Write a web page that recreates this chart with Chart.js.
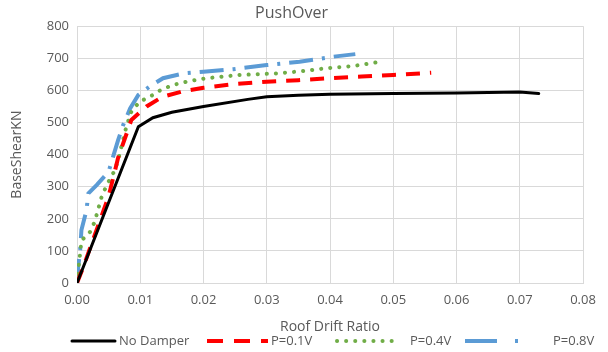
<!DOCTYPE html>
<html>
<head>
<meta charset="utf-8">
<script src="https://cdn.jsdelivr.net/npm/chart.js@4"></script>
<style>
    html, body { margin: 0; padding: 0; background: #fff; }
    #wrap { width: 608px; height: 352px; }
</style>
</head>
<body>
<div id="wrap"><canvas id="pushChart" width="608" height="352"></canvas></div>
<script>
// Data
const seriesLabels = ['No Damper', 'P=0.1V', 'P=0.4V', 'P=0.8V'];

const driftNoDamper = [0, 0.0097, 0.012, 0.015, 0.02, 0.027, 0.03, 0.035, 0.04, 0.05, 0.06, 0.07, 0.073];
const shearNoDamper = [0, 487, 515, 532, 550, 572, 580, 585, 588, 590, 592, 595, 590];

const drift01 = [0, 0.001, 0.003, 0.005, 0.0065, 0.0086, 0.011, 0.0135, 0.0165, 0.02, 0.025, 0.03, 0.035, 0.04, 0.045, 0.05, 0.056];
const shear01 = [0, 50, 160, 270, 390, 508, 550, 580, 596, 608, 620, 627, 632, 638, 643, 648, 655];

const drift04 = [0, 0.0007, 0.0021, 0.0028, 0.0039, 0.0047, 0.006, 0.0065, 0.0078, 0.0086, 0.0099, 0.0115, 0.0134, 0.0152, 0.0173, 0.0194, 0.0215, 0.0257, 0.0315, 0.0357, 0.0394, 0.0437, 0.0476];
const shear04 = [0, 132, 160, 191, 269, 305, 352, 383, 487, 534, 565, 580, 603, 617, 627, 635, 640, 648, 653, 660, 669, 676, 688];

const drift08 = [0, 0.0002, 0.0005, 0.0007, 0.0015, 0.0018, 0.0031, 0.005, 0.0057, 0.0065, 0.0073, 0.0084, 0.0097, 0.0115, 0.0136, 0.0168, 0.02, 0.0247, 0.03, 0.0352, 0.0405, 0.044];
const shear08 = [0, 51, 103, 165, 227, 279, 305, 347, 393, 445, 492, 544, 586, 612, 638, 653, 658, 666, 679, 689, 705, 713];

const xTicks = [0, 0.01, 0.02, 0.03, 0.04, 0.05, 0.06, 0.07, 0.08];
const yTicks = [0, 100, 200, 300, 400, 500, 600, 700, 800];

const textGray = '#595959';
const gridGray = '#d9d9d9';
const fontFamily = '"Open Sans", "Liberation Sans", sans-serif';

function toPoints(xs, ys) {
    return xs.map((x, i) => ({ x: x, y: ys[i] }));
}

// legend placement (layout only)
const legendLineStart = [72, 207, 337, 465];
const legendLineEnd = [115, 268, 398, 520];
const legendTextX = [119, 271, 410, 553];
const legendDash = [[], [16, 11], [0.1, 9], [32, 18, 3, 60]];

const legendPlugin = {
    id: 'excelLegend',
    afterDraw(chart) {
        const ctx = chart.ctx;
        const y = 341;
        ctx.save();
        chart.data.datasets.forEach((ds, i) => {
            ctx.beginPath();
            ctx.strokeStyle = ds.borderColor;
            ctx.lineWidth = ds.borderWidth;
            ctx.lineCap = ds.borderCapStyle || 'butt';
            ctx.setLineDash(legendDash[i]);
            ctx.moveTo(legendLineStart[i], y);
            ctx.lineTo(legendLineEnd[i], y);
            ctx.stroke();
            ctx.setLineDash([]);
            ctx.fillStyle = textGray;
            ctx.font = '13px ' + fontFamily;
            ctx.textBaseline = 'middle';
            ctx.textAlign = 'left';
            ctx.fillText(ds.label, legendTextX[i], y);
        });
        ctx.restore();
    }
};

new Chart(document.getElementById('pushChart'), {
    type: 'line',
    data: {
        datasets: [
            {
                label: seriesLabels[0],
                data: toPoints(driftNoDamper, shearNoDamper),
                borderColor: '#000000',
                borderWidth: 3,
                borderCapStyle: 'round'
            },
            {
                label: seriesLabels[1],
                data: toPoints(drift01, shear01),
                borderColor: '#ff0000',
                borderWidth: 4,
                borderDash: [14, 10]
            },
            {
                label: seriesLabels[2],
                data: toPoints(drift04, shear04),
                borderColor: '#70ad47',
                borderWidth: 4,
                borderDash: [0.1, 9],
                borderCapStyle: 'round'
            },
            {
                label: seriesLabels[3],
                data: toPoints(drift08, shear08),
                borderColor: '#5b9bd5',
                borderWidth: 4,
                borderDash: [24, 9, 3, 9]
            }
        ]
    },
    options: {
        responsive: false,
        animation: false,
        elements: {
            point: { radius: 0 },
            line: { tension: 0, fill: false }
        },
        layout: { padding: { left: 0, right: 25, top: 0, bottom: 17 } },
        plugins: {
            legend: { display: false },
            tooltip: { enabled: false },
            title: {
                display: true,
                text: 'PushOver',
                color: textGray,
                font: { family: fontFamily, size: 16, weight: 'normal' },
                padding: { top: 4, bottom: 3 }
            }
        },
        scales: {
            x: {
                type: 'linear',
                min: 0,
                max: 0.08,
                afterFit: (scale) => { scale.height = 52; },
                afterBuildTicks: (scale) => { scale.ticks = xTicks.map(v => ({ value: v })); },
                grid: { color: gridGray, drawTicks: false },
                border: { color: gridGray },
                ticks: {
                    color: textGray,
                    padding: 9,
                    font: { family: fontFamily, size: 13 },
                    callback: (v) => Number(v).toFixed(2)
                },
                title: {
                    display: true,
                    text: 'Roof Drift Ratio',
                    color: textGray,
                    font: { family: fontFamily, size: 14 },
                    padding: { top: 0, bottom: 0 }
                }
            },
            y: {
                min: 0,
                max: 800,
                afterFit: (scale) => { scale.width = 77; },
                afterBuildTicks: (scale) => { scale.ticks = yTicks.map(v => ({ value: v })); },
                grid: { color: gridGray, drawTicks: false },
                border: { color: gridGray },
                ticks: {
                    color: textGray,
                    padding: 8,
                    font: { family: fontFamily, size: 13 }
                },
                title: {
                    display: true,
                    text: 'BaseShearKN',
                    color: textGray,
                    font: { family: fontFamily, size: 14 },
                    padding: { top: 9, bottom: 0 }
                }
            }
        }
    },
    plugins: [legendPlugin]
});
</script>
</body>
</html>
